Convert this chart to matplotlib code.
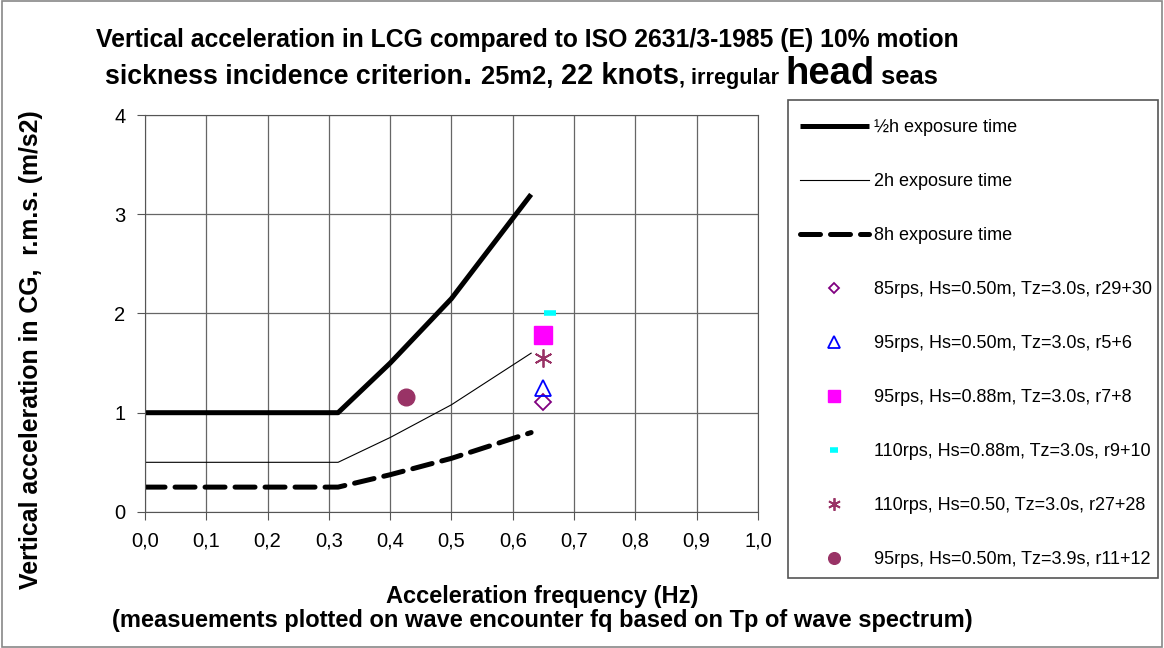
import matplotlib
matplotlib.use("Agg")
import matplotlib.pyplot as plt
from matplotlib.patches import Rectangle
from matplotlib.ticker import FuncFormatter

plt.rcParams['font.family'] = ['Liberation Sans', 'DejaVu Sans']

# ISO 2631/3 limits
freq = [0.0, 0.315, 0.4, 0.5, 0.63]
half_h = [1.0, 1.0, 1.5, 2.15, 3.2]
two_h = [0.5, 0.5, 0.75, 1.08, 1.6]
eight_h = [0.25, 0.25, 0.375, 0.54, 0.8]

# measurements
meas_labels = ['85rps, Hs=0.50m, Tz=3.0s, r29+30',
               '95rps, Hs=0.50m, Tz=3.0s, r5+6',
               '95rps, Hs=0.88m, Tz=3.0s, r7+8',
               '110rps, Hs=0.88m, Tz=3.0s, r9+10',
               '110rps, Hs=0.50, Tz=3.0s, r27+28',
               '95rps, Hs=0.50m, Tz=3.9s, r11+12']
meas_x = [0.65, 0.65, 0.65, 0.66, 0.65, 0.426]
meas_y = [1.11, 1.25, 1.78, 2.0, 1.55, 1.16]

W, H = 1164, 648
fig = plt.figure(figsize=(W / 100, H / 100), dpi=100)
fig.patches.append(Rectangle((0.002, 0.002), 0.996, 0.996, transform=fig.transFigure,
                             fill=False, edgecolor='#888888', lw=1.2))
ax = fig.add_axes([0.1246, 0.21, 0.5265, 0.6125])

ax.plot(freq, half_h, color='black', lw=3.6, solid_capstyle='butt', label='½h exposure time')
ax.plot(freq, two_h, color='black', lw=0.8, label='2h exposure time')
ax.plot(freq, eight_h, color='black', lw=3.6, dashes=(4.0, 2.0), dash_capstyle='round',
        label='8h exposure time')

styles = [dict(marker='D', mfc='none', mec='#800080', ms=8, mew=1.3),
          dict(marker='^', mfc='none', mec='#0000ff', ms=12, mew=1.3),
          dict(marker='s', mfc='#ff00ff', mec='#ff00ff', ms=13),
          dict(marker='_', mfc='#00ffff', mec='#00ffff', ms=9, mew=4),
          dict(marker=(6, 2, 0), mfc='#993366', mec='#993366', ms=13, mew=1.3),
          dict(marker='o', mfc='#993366', mec='#993366', ms=12)]
for x, y, lab, st in zip(meas_x, meas_y, meas_labels, styles):
    ax.plot([x], [y], ls='none', label=lab, **st)

ax.set_xlim(0, 1.0)
ax.set_ylim(0, 4)
ax.set_xticks([i / 10 for i in range(11)])
ax.set_yticks([0, 1, 2, 3, 4])
ax.xaxis.set_major_formatter(FuncFormatter(lambda v, p: f'{v:.1f}'.replace('.', ',')))
ax.grid(True, color='#666666', lw=0.9)
ax.set_axisbelow(True)
ax.tick_params(length=6, direction='out', color='#555555', pad=8, labelsize=14.5)
for s in ax.spines.values():
    s.set_color('#555555')

fig.text(0.4656, 1 - 596 / H, 'Acceleration frequency (Hz)', ha='center', va='center',
         fontsize=17, fontweight='bold')
fig.text(0.4656, 1 - 621 / H,
         '(measuements plotted on wave encounter fq based on Tp of wave spectrum)',
         ha='center', va='center', fontsize=17, fontweight='bold')
fig.text(31 / W, 1 - 350 / H, 'Vertical acceleration in CG,  r.m.s. (m/s2)',
         rotation=90, ha='center', va='center', fontsize=17.9, fontweight='bold')

# title with mixed font sizes
fig.text(0.453, 1 - 47 / H, 'Vertical acceleration in LCG compared to ISO 2631/3-1985 (E) 10% motion',
         ha='center', va='baseline', fontsize=17.8, fontweight='bold')
pieces = [('sickness incidence criterion', 19.3), ('. ', 24), ('25m2, ', 18.4),
          ('22 knots', 21), (', irregular ', 15.6), ('head', 27.5), (' seas', 18.4)]
renderer = fig.canvas.get_renderer()
texts = []
for s, fs in pieces:
    texts.append(fig.text(0, 1 - 84 / H, s, ha='left', va='baseline', fontsize=fs,
                          fontweight='bold'))
widths = [t.get_window_extent(renderer).width for t in texts]
x0 = 0.448 * W - sum(widths) / 2
for t, w in zip(texts, widths):
    t.set_x(x0 / W)
    x0 += w

# legend box drawn separately, legend itself frameless
fig.patches.append(Rectangle((788 / W, 1 - 578 / H), 370 / W, 478 / H, transform=fig.transFigure,
                             fill=False, edgecolor='#555555', lw=1.2))
leg = fig.legend(loc='upper left', bbox_to_anchor=(800 / W, 1 - 119 / H), fontsize=13,
                 frameon=False, borderpad=0, labelspacing=2.05, handlelength=3.8,
                 handletextpad=0.3, borderaxespad=0, markerscale=0.7)

fig.savefig('out.png', dpi=100)
